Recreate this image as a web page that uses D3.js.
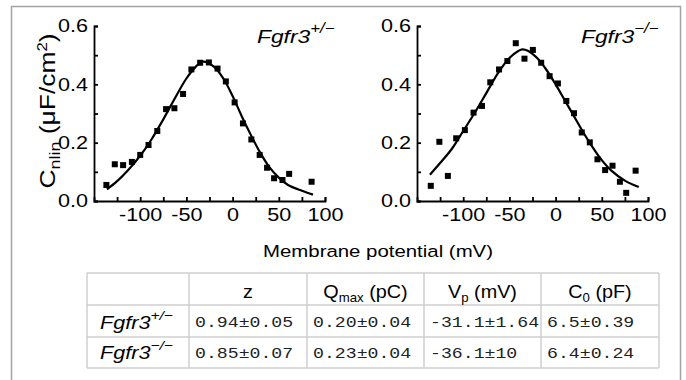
<!DOCTYPE html>
<html>
<head>
<meta charset="utf-8">
<script src="https://cdn.jsdelivr.net/npm/d3@7"></script>
<style>
  body { margin: 0; background: #fff; }
  svg { display: block; font-family: "Liberation Sans", Arial, sans-serif; }
</style>
</head>
<body>
<div id="chart"></div>
<script>
// measured points, Fgfr3 +/-
const vHet = [-136.6, -127.5, -118.5, -109, -100, -91, -81.5, -72, -63, -53.6, -44.6, -35.1, -25.7, -16.3, -7.3, 2.2, 11.2, 20.3, 29.3, 37.3, 44.9, 54, 61.2, 85.5];
const cHet = [0.055, 0.126, 0.123, 0.134, 0.158, 0.192, 0.240, 0.315, 0.318, 0.367, 0.451, 0.474, 0.475, 0.454, 0.410, 0.338, 0.266, 0.211, 0.158, 0.114, 0.078, 0.072, 0.093, 0.066];
// fit line
const fitVHet = [-136, -125, -112, -100, -88, -75, -62, -50, -40, -32, -20, -10, 0, 10, 20, 30, 40, 50, 60, 75, 87];
const fitCHet = [0.04, 0.068, 0.11, 0.155, 0.21, 0.28, 0.355, 0.42, 0.46, 0.478, 0.46, 0.42, 0.36, 0.29, 0.225, 0.165, 0.115, 0.08, 0.055, 0.035, 0.022];

// measured points, Fgfr3 -/-
const vKo = [-135.1, -125.8, -116.6, -107.6, -98.2, -88.8, -79.7, -70.7, -61.2, -52.2, -43.1, -33.7, -24.6, -15.6, -6.5, 2.5, 11.6, 19.9, 28.3, 37, 45.3, 53.6, 61.6, 69.6, 76.4, 86.6];
const cKo = [0.052, 0.203, 0.086, 0.215, 0.243, 0.303, 0.326, 0.407, 0.451, 0.480, 0.541, 0.488, 0.518, 0.474, 0.428, 0.403, 0.343, 0.301, 0.235, 0.201, 0.143, 0.106, 0.121, 0.066, 0.028, 0.104];
const fitVKo = [-136, -125, -112, -100, -88, -75, -62, -50, -40, -36, -30, -20, -10, 0, 10, 20, 30, 40, 50, 60, 75, 90];
const fitCKo = [0.09, 0.13, 0.18, 0.24, 0.30, 0.37, 0.44, 0.49, 0.515, 0.52, 0.515, 0.49, 0.45, 0.40, 0.345, 0.29, 0.235, 0.185, 0.14, 0.105, 0.07, 0.048];

const xTicks = [-125, -100, -75, -50, -25, 0, 25, 50, 75, 100];
const yTicks = [0, 0.1, 0.2, 0.3, 0.4, 0.5, 0.6];

// table
const genotypes = ["+/\u2212", "\u2212/\u2212"];
const colHeads = [["z", "", ""], ["Q", "max", " (pC)"], ["V", "p", " (mV)"], ["C", "0", " (pF)"]];
const zVals = ["0.94\u00b10.05", "0.85\u00b10.07"];
const qmaxVals = ["0.20\u00b10.04", "0.23\u00b10.04"];
const vpVals = ["-31.1\u00b11.64", "-36.1\u00b110"];
const c0Vals = ["6.5\u00b10.39", "6.4\u00b10.24"];

const W = 686, H = 380;
const SX = 1.2; // text in the figure is drawn wide

const svg = d3.select("#chart").append("svg")
    .attr("width", W).attr("height", H);

// outer frame
svg.append("rect")
    .attr("x", 11.5).attr("y", 6.5)
    .attr("width", 669).attr("height", 400)
    .attr("fill", "none").attr("stroke", "#a3a3a3").attr("stroke-width", 1.5);

const y = d3.scaleLinear().domain([0, 0.6]).range([201, 26]);

function panel(x0, vs, cs, fv, fc, gene, labelX) {
    const x = d3.scaleLinear().domain([-150, 100]).range([x0, x0 + 231]);
    const g = svg.append("g");

    const xa = g.append("g")
        .attr("transform", `translate(0,${y(0)})`)
        .call(d3.axisBottom(x).tickValues(xTicks).tickSize(-4).tickSizeOuter(-4).tickPadding(7)
            .tickFormat(d => d % 50 === 0 ? d : ""));
    const ya = g.append("g")
        .attr("transform", `translate(${x(-150)},0)`)
        .call(d3.axisLeft(y).tickValues(yTicks).tickSize(-4).tickSizeOuter(-4).tickPadding(6)
            .tickFormat(d => Math.round(d * 10) % 2 === 0 ? d3.format(".1f")(d) : ""));

    [xa, ya].forEach(a => {
        a.selectAll("path, line").attr("stroke", "#000").attr("stroke-width", 1.8);
        a.selectAll("text").attr("font-size", 18).attr("fill", "#000")
            .attr("font-family", "'Liberation Sans', Arial, sans-serif");
    });
    xa.selectAll("text").attr("transform", `scale(${SX},1)`);
    ya.selectAll("text").attr("x", -6 / SX).attr("transform", `scale(${SX},1)`);

    const fit = fv.map((v, i) => [v, fc[i]]);
    g.append("path")
        .datum(fit)
        .attr("fill", "none").attr("stroke", "#000").attr("stroke-width", 2.2)
        .attr("d", d3.line().x(d => x(d[0])).y(d => y(d[1])).curve(d3.curveCatmullRom));

    const pts = vs.map((v, i) => [v, cs[i]]);
    g.selectAll(".pt").data(pts).enter().append("rect")
        .attr("class", "pt")
        .attr("x", d => x(d[0]) - 3).attr("y", d => y(d[1]) - 3)
        .attr("width", 6).attr("height", 6)
        .attr("fill", "#000");

    const t = g.append("text")
        .attr("transform", `translate(${labelX},43) scale(${SX},1)`)
        .attr("font-size", 19).attr("font-style", "italic");
    t.append("tspan").text("Fgfr3");
    t.append("tspan").attr("font-size", 14).attr("dy", -10).text(gene);
}

panel(94, vHet, cHet, fitVHet, fitCHet, genotypes[0], 257);
panel(417, vKo, cKo, fitVKo, fitCKo, genotypes[1], 581);

// y label
const yl = svg.append("text")
    .attr("transform", `translate(55,111) rotate(-90) scale(${SX},1)`)
    .attr("text-anchor", "middle").attr("font-size", 22);
yl.append("tspan").text("C");
yl.append("tspan").attr("font-size", 15).attr("dy", 5).text("nlin");
yl.append("tspan").attr("dy", -5).text(" (\u03bcF/cm");
yl.append("tspan").attr("font-size", 14).attr("dy", -8).text("2");
yl.append("tspan").attr("dy", 8).text(")");

// x label
svg.append("text")
    .attr("transform", `translate(378,257) scale(${SX},1)`)
    .attr("text-anchor", "middle").attr("font-size", 17)
    .text("Membrane potential (mV)");

// table
const colX = [87, 189, 307, 424, 541, 659];
const rowY = [273, 305, 337, 368];
const tg = svg.append("g");
colX.forEach(cx => tg.append("line")
    .attr("x1", cx).attr("x2", cx).attr("y1", rowY[0]).attr("y2", rowY[3])
    .attr("stroke", "#cfcfcf").attr("stroke-width", 1.5));
rowY.forEach(ry => tg.append("line")
    .attr("x1", colX[0]).attr("x2", colX[5]).attr("y1", ry).attr("y2", ry)
    .attr("stroke", "#cfcfcf").attr("stroke-width", 1.5));

colHeads.forEach((h, i) => {
    const cx = (colX[i + 1] + colX[i + 2]) / 2;
    const t = tg.append("text")
        .attr("transform", `translate(${cx},298) scale(1.1,1)`)
        .attr("text-anchor", "middle").attr("font-size", 18);
    t.append("tspan").text(h[0]);
    if (h[1]) t.append("tspan").attr("font-size", 12).attr("dy", 4).text(h[1]);
    if (h[2]) t.append("tspan").attr("dy", h[1] ? -4 : 0).text(h[2]);
});

const rowsVals = [zVals, qmaxVals, vpVals, c0Vals];
genotypes.forEach((gname, r) => {
    const by = r === 0 ? 329 : 359;
    const t = tg.append("text")
        .attr("transform", `translate(100,${by}) scale(${SX},1)`)
        .attr("font-size", 18).attr("font-style", "italic");
    t.append("tspan").text("Fgfr3");
    t.append("tspan").attr("font-size", 13).attr("dy", -9).text(gname);

    rowsVals.forEach((vals, c) => {
        tg.append("text")
            .attr("transform", `translate(${colX[c + 1] + 6},${r === 0 ? 327 : 358}) scale(1.3,1)`)
            .attr("font-family", "'Liberation Mono', 'Courier New', monospace")
            .attr("font-size", 14).attr("fill", "#222")
            .text(vals[r]);
    });
});
</script>
</body>
</html>
